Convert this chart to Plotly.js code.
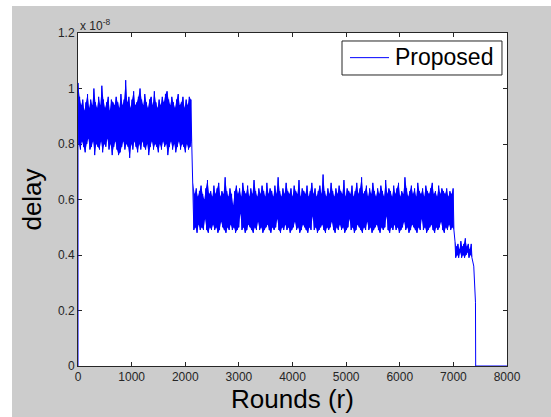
<!DOCTYPE html>
<html>
<head>
<meta charset="utf-8">
<script src="https://cdn.plot.ly/plotly-3.0.1.min.js"></script>
<style>
html,body{margin:0;padding:0;background:#ffffff;}
#chart{position:absolute;left:12px;top:6px;width:539px;height:411px;}
</style>
</head>
<body>
<div id="chart"></div>
<script>
// delay values in units of 1e-8 (axis multiplier shown as "x 10^-8")
// Segment boundaries (rounds)
const segStart = [0, 2145, 7030];
const segEnd   = [2135, 7025, 7360];

// Segment 1: upper and lower envelope of the noisy band
const seg1Top = [1.02,0.97,0.94,0.96,0.92,0.95,0.98,0.93,0.96,0.94,
 1.00,0.95,0.93,0.97,0.94,1.01,0.96,0.93,0.95,0.97,
 0.92,0.96,0.95,0.94,0.97,0.95,0.93,0.98,0.94,0.96,
 1.03,0.95,0.97,0.93,0.96,0.99,0.94,0.95,0.97,1.00,
 0.96,0.94,0.98,0.95,0.93,0.96,0.97,0.94,0.99,0.95,
 0.93,0.96,0.94,0.97,0.95,0.98,0.99,0.96,0.94,0.97,
 0.95,0.93,0.96,0.98,0.94,0.95,0.97,0.93,0.96,0.94,
 0.97,0.96];
const seg1Bot = [0.80,0.78,0.81,0.79,0.77,0.80,0.82,0.78,0.79,0.81,
 0.76,0.80,0.79,0.78,0.81,0.77,0.80,0.79,0.82,0.78,
 0.80,0.76,0.79,0.81,0.78,0.76,0.77,0.79,0.81,0.78,
 0.80,0.79,0.75,0.80,0.78,0.81,0.79,0.77,0.80,0.78,
 0.81,0.79,0.78,0.80,0.76,0.79,0.81,0.78,0.80,0.79,
 0.77,0.80,0.78,0.81,0.79,0.80,0.76,0.79,0.81,0.78,
 0.80,0.77,0.79,0.81,0.78,0.80,0.79,0.77,0.80,0.78,
 0.79,0.81];

// Segment 2
const seg2Top = [0.66,0.62,0.64,0.61,0.63,0.65,0.62,0.60,0.64,0.67,0.62,0.63,0.61,0.65,0.62,0.64,0.66,0.61,0.63,0.62,
 0.68,0.63,0.61,0.64,0.62,0.58,0.63,0.65,0.62,0.64,0.61,0.66,0.63,0.62,0.65,0.61,0.64,0.62,0.67,0.63,
 0.61,0.64,0.62,0.65,0.63,0.61,0.66,0.62,0.64,0.63,0.61,0.65,0.62,0.68,0.63,0.61,0.64,0.62,0.66,0.63,
 0.62,0.64,0.61,0.65,0.63,0.62,0.67,0.61,0.64,0.63,0.62,0.65,0.61,0.63,0.66,0.62,0.64,0.61,0.63,0.65,
 0.62,0.69,0.63,0.61,0.64,0.62,0.66,0.63,0.61,0.64,0.62,0.65,0.63,0.62,0.67,0.61,0.64,0.63,0.62,0.65,
 0.61,0.63,0.66,0.62,0.64,0.68,0.62,0.63,0.65,0.61,0.64,0.62,0.66,0.63,0.61,0.64,0.62,0.65,0.63,0.61,
 0.67,0.62,0.64,0.63,0.61,0.65,0.62,0.64,0.66,0.61,0.63,0.62,0.68,0.64,0.61,0.63,0.65,0.62,0.64,0.61,
 0.66,0.63,0.62,0.64,0.61,0.65,0.63,0.62,0.64,0.66,0.62,0.63,0.61,0.65,0.62,0.64,0.63,0.62,0.64,0.61,
 0.63,0.62,0.64];
const seg2Bot = [0.49,0.50,0.48,0.51,0.49,0.50,0.49,0.53,0.49,0.48,0.50,0.49,0.51,0.49,0.50,0.48,0.49,0.52,0.50,0.49,
 0.48,0.50,0.49,0.51,0.49,0.50,0.48,0.49,0.50,0.55,0.49,0.50,0.48,0.49,0.51,0.50,0.49,0.48,0.50,0.49,
 0.52,0.49,0.50,0.48,0.49,0.50,0.51,0.49,0.48,0.50,0.49,0.50,0.53,0.49,0.48,0.50,0.49,0.51,0.49,0.50,
 0.48,0.49,0.50,0.52,0.49,0.50,0.48,0.49,0.51,0.50,0.49,0.48,0.50,0.49,0.54,0.49,0.50,0.48,0.49,0.50,
 0.51,0.49,0.48,0.50,0.49,0.50,0.52,0.49,0.48,0.50,0.49,0.51,0.49,0.50,0.48,0.49,0.50,0.53,0.49,0.50,
 0.48,0.49,0.51,0.50,0.49,0.48,0.50,0.49,0.52,0.49,0.50,0.48,0.49,0.50,0.51,0.49,0.48,0.50,0.49,0.50,
 0.54,0.49,0.48,0.50,0.49,0.51,0.49,0.50,0.48,0.49,0.50,0.52,0.49,0.50,0.48,0.49,0.51,0.50,0.49,0.48,
 0.50,0.49,0.53,0.49,0.50,0.48,0.49,0.50,0.51,0.49,0.48,0.50,0.49,0.50,0.52,0.49,0.48,0.50,0.49,0.51,
 0.49,0.50,0.49];

// Segment 3
const seg3Top = [0.45,0.43,0.44,0.42,0.45,0.43,0.44,0.46,0.43,0.44,0.42,0.44];
const seg3Bot = [0.39,0.40,0.39,0.41,0.39,0.40,0.39,0.40,0.41,0.39,0.40,0.39];

// Final decay to zero
const tailRounds = [7380, 7390, 7395, 7405, 7412, 7416, 8000];
const tailDelay  = [0.36, 0.31, 0.27, 0.24, 0.23, 0.00, 0.00];

const xTickVals = [0,1000,2000,3000,4000,5000,6000,7000,8000];
const xTickText = ["0","1000","2000","3000","4000","5000","6000","7000","8000"];
const yTickVals = [0,0.2,0.4,0.6,0.8,1,1.2];
const yTickText = ["0","0.2","0.4","0.6","0.8","1","1.2"];
const seriesName = "Proposed";

const segTops = [seg1Top, seg2Top, seg3Top];
const segBots = [seg1Bot, seg2Bot, seg3Bot];
const BLUE = '#0000ff';

const traces = [];
const xs = [0], ys = [0];
for (let s = 0; s < segTops.length; s++) {
  const n = Math.min(segTops[s].length, segBots[s].length);
  const step = (segEnd[s] - segStart[s]) / n;
  const tx = [], ty = [], bx = [], by = [];
  for (let i = 0; i < n; i++) {
    const xt = segStart[s] + i * step, xb = segStart[s] + (i + 0.5) * step;
    xs.push(xt); ys.push(segTops[s][i]);
    xs.push(xb); ys.push(segBots[s][i]);
    tx.push(xt); ty.push(segTops[s][i]);
    bx.push(xb); by.push(segBots[s][i]);
  }
  // solid body of the dense noisy band
  traces.push({
    type: 'scatter', mode: 'none', fill: 'toself', fillcolor: BLUE,
    x: tx.concat(bx.slice().reverse()), y: ty.concat(by.slice().reverse()),
    showlegend: false, hoverinfo: 'skip'
  });
}
for (let i = 0; i < tailRounds.length; i++) { xs.push(tailRounds[i]); ys.push(tailDelay[i]); }

traces.push({
  type: 'scatter', mode: 'lines', name: seriesName,
  x: xs, y: ys, line: {color: BLUE, width: 1}, showlegend: false
});

const FONT = "Liberation Sans, Arial, sans-serif";

// manual legend box (paper coordinates of the plot area)
const shapes = [
  {type: 'rect', xref: 'paper', yref: 'paper', x0: 0.6154, x1: 0.9883, y0: 0.8739, y1: 0.976,
   line: {color: '#262626', width: 1}, fillcolor: '#ffffff', layer: 'above'},
  {type: 'line', xref: 'paper', yref: 'paper', x0: 0.634, x1: 0.725, y0: 0.926, y1: 0.926,
   line: {color: BLUE, width: 1}, layer: 'above'}
];

const layout = {
  width: 539, height: 411,
  paper_bgcolor: '#cccccc', plot_bgcolor: '#ffffff',
  margin: {l: 66, r: 44, t: 27, b: 51},
  font: {family: FONT, color: '#262626'},
  showlegend: false,
  shapes: shapes,
  xaxis: {
    range: [0, 8000], tickvals: xTickVals, ticktext: xTickText,
    ticks: 'inside', ticklen: 4, tickcolor: '#262626', mirror: 'allticks',
    showline: true, linecolor: '#262626', linewidth: 1,
    showgrid: false, zeroline: false, layer: 'below traces',
    tickfont: {family: FONT, size: 12, color: '#262626'},
    title: {text: 'Rounds (r)', font: {family: FONT, size: 26, color: '#000000'}, standoff: 4}
  },
  yaxis: {
    range: [0, 1.2], tickvals: yTickVals, ticktext: yTickText,
    ticks: 'inside', ticklen: 4, tickcolor: '#262626', mirror: 'allticks',
    showline: true, linecolor: '#262626', linewidth: 1,
    showgrid: false, zeroline: false, layer: 'below traces',
    tickfont: {family: FONT, size: 12, color: '#262626'},
    title: {text: 'delay', font: {family: FONT, size: 26, color: '#000000'}, standoff: 8}
  },
  annotations: [
    {xref: 'paper', yref: 'paper', x: 0, y: 1, xanchor: 'left', yanchor: 'bottom',
     yshift: -2, showarrow: false,
     text: 'x 10<sup>-8</sup>', font: {family: FONT, size: 12, color: '#262626'}},
    {xref: 'paper', yref: 'paper', x: 0.739, y: 0.926, xanchor: 'left', yanchor: 'middle',
     yshift: 1, xshift: -2, showarrow: false,
     text: seriesName, font: {family: FONT, size: 23, color: '#000000'}}
  ]
};

Plotly.newPlot('chart', traces, layout, {displayModeBar: false, staticPlot: true});
</script>
</body>
</html>
